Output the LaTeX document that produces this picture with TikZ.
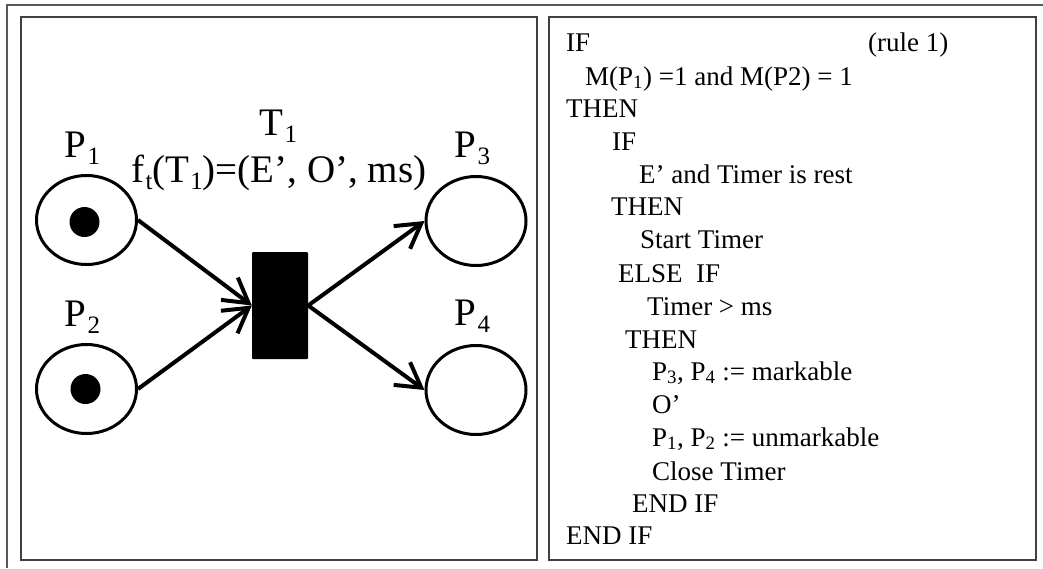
\documentclass[tikz,border=0pt]{standalone}
\usepackage{fontspec}
\setmainfont{Liberation Serif}
\usetikzlibrary{shapes.geometric, arrows.meta}
\newcommand\ls[1]{\kern1pt\raisebox{-7.5pt}{\fontsize{25}{25}\selectfont #1}}
\tikzset{
  place/.style={
    ellipse, draw, line width=3pt,
    minimum width=100pt, minimum height=89pt, inner sep=0pt
  },
  tokendot/.style={circle, fill, minimum size=30pt, inner sep=0pt},
  transbar/.style={
    rectangle, fill, rounded corners=1pt,
    minimum width=56pt, minimum height=107pt, inner sep=0pt
  },
  flow/.style={line width=4pt, -{Straight Barb[length=24pt, width=28pt]}},
  lbl/.style={anchor=base, inner sep=0pt, font=\fontsize{39}{44}\selectfont},
  rule/.style={anchor=base west, inner sep=0pt, font=\fontsize{27}{32}\selectfont},
  panel/.style={draw=black!75, line width=2pt},
  frame/.style={draw=black!65, line width=2pt}
}

\begin{document}
\begin{tikzpicture}[x=1pt, y=-1pt]
\useasboundingbox (0,0) rectangle (1043,568);
\newcommand\XT{280}
\newcommand\YT{305}
% frames
\draw[frame] (1043,5) -- (7,5) -- (7,568);
\draw[panel] (20.5,17) rectangle (537,560);
\draw[panel] (549,17) rectangle (1036,560);

% net
\node[transbar] (T1) at (\XT,\YT+0.5) {};
\node[place] (P1) at (\XT-193.5,\YT-85) {};
\node[place] (P2) at (\XT-193.5,\YT+84) {};
\node[place] (P3) at (\XT+196,\YT-84) {};
\node[place] (P4) at (\XT+196,\YT+85) {};
\node[tokendot] (K1) at ([xshift=-2pt,yshift=-2pt]P1.center) {};
\node[tokendot] (K2) at ([xshift=-1pt]P2.center) {};

\node[lbl] (LP1) at (\XT-197.5,\YT-148) {P\ls{1}};
\node[lbl] (LP2) at (\XT-197.5,\YT+21) {P\ls{2}};
\node[lbl] (LP3) at (\XT+192.5,\YT-148) {P\ls{3}};
\node[lbl] (LP4) at (\XT+192.5,\YT+20) {P\ls{4}};
\node[lbl] (LT1) at (\XT-1.5,\YT-170) {T\ls{1}};
\node[lbl] (LF1) at (\XT-1,\YT-123) {f\ls{t}(T\ls{1})=(E’, O’, ms)};

\path (P1.east) edge[flow] (T1.west)
      (P2.east) edge[flow] (T1.west)
      (T1.east) edge[flow] (P3.west)
                edge[flow] (P4.west);

% rule text
\node[rule] (R1)  at (566,51)  {IF};
\node[rule] (R0)  at (868,51)  {(rule 1)};
\node[rule] (R2)  at (585,85)  {M(P\textsubscript{1}) =1 and M(P2) = 1};
\node[rule] (R3)  at (566,117) {THEN};
\node[rule] (R4)  at (612,150) {IF};
\node[rule] (R5)  at (639,183) {E’ and Timer is rest};
\node[rule] (R6)  at (611,215) {THEN};
\node[rule] (R7)  at (640,248) {Start Timer};
\node[rule] (R8)  at (618,282) {ELSE\ \ IF};
\node[rule] (R9)  at (647,315) {Timer > ms};
\node[rule] (R10) at (625,348) {THEN};
\node[rule] (R11) at (652,380) {P\textsubscript{3}, P\textsubscript{4} := markable};
\node[rule] (R12) at (652,413) {O’};
\node[rule] (R13) at (652,446) {P\textsubscript{1}, P\textsubscript{2} := unmarkable};
\node[rule] (R14) at (652,480) {Close Timer};
\node[rule] (R15) at (632,512) {END IF};
\node[rule] (R16) at (566,544) {END IF};
\end{tikzpicture}
\end{document}
